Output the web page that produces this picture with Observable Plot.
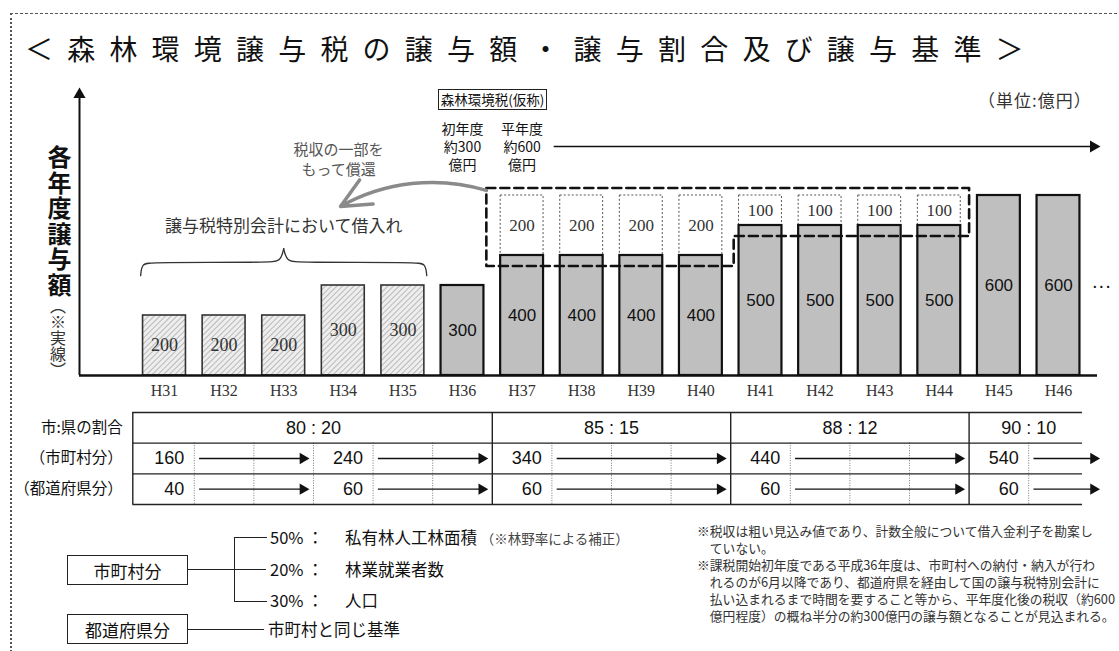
<!DOCTYPE html>
<html><head><meta charset="utf-8">
<script src="https://cdn.jsdelivr.net/npm/d3@7"></script>
<script src="https://cdn.jsdelivr.net/npm/@observablehq/plot@0.6"></script>
<style>
body{margin:0;background:#fff;}
#page{position:relative;width:1119px;height:651px;overflow:hidden;font-family:"Noto Sans CJK JP",sans-serif;color:#111;background:#fff;}
.abs{position:absolute;white-space:nowrap;line-height:1;}
#frame{position:absolute;left:10px;top:13px;width:1120px;height:650px;border-top:1.5px dashed #555;border-left:2px dotted #555;}
.box{position:absolute;border:1.5px solid #222;display:flex;align-items:center;justify-content:center;font-size:17px;box-sizing:border-box;}
.note{position:absolute;left:697px;top:522px;font-size:12.8px;line-height:17px;color:#333;white-space:nowrap;}
.note .c{padding-left:1em;}
svg{position:absolute;}
</style></head>
<body><div id="page">
<div id="frame"></div>
<div class="abs" style="left:25px;top:34px;font-size:28px;letter-spacing:14.2px;">＜森林環境譲与税の譲与額・譲与割合及び譲与基準＞</div>
<div class="abs" style="left:47px;top:145px;writing-mode:vertical-rl;font-size:24px;font-weight:700;letter-spacing:1.5px;">各年度譲与額</div>
<div class="abs" style="left:50px;top:298px;writing-mode:vertical-rl;font-size:16px;color:#333;">（※実線）</div>
<div class="abs" style="left:978px;top:91px;font-size:17px;letter-spacing:1px;color:#333;">（単位:億円）</div>
<div class="abs" style="left:438px;top:89px;width:109px;height:21px;border:1.5px solid #222;box-sizing:border-box;font-size:13.5px;display:flex;align-items:center;justify-content:center;">森林環境税(仮称)</div>

<div class="box" style="left:67px;top:555px;width:121px;height:30px;">市町村分</div>
<div class="box" style="left:67px;top:614px;width:121px;height:30px;">都道府県分</div>
<div class="abs" style="left:188px;top:569px;width:78px;height:0;border-top:1.3px solid #222;"></div>
<div class="abs" style="left:234px;top:537px;width:32px;height:63px;border-left:1.3px solid #222;border-top:1.3px solid #222;border-bottom:1.3px solid #222;"></div>
<div class="abs" style="left:188px;top:629px;width:76px;height:0;border-top:1.3px solid #222;"></div>
<div class="abs" style="left:270px;top:529px;font-size:16.5px;">50%</div>
<div class="abs" style="left:307px;top:529px;font-size:16.5px;">：</div>
<div class="abs" style="left:345px;top:529px;font-size:16.5px;">私有林人工林面積 <span style="font-size:13.5px;color:#444;">（※林野率による補正）</span></div>
<div class="abs" style="left:270px;top:561px;font-size:16.5px;">20%</div>
<div class="abs" style="left:307px;top:561px;font-size:16.5px;">：</div>
<div class="abs" style="left:345px;top:561px;font-size:16.5px;">林業就業者数</div>
<div class="abs" style="left:270px;top:592px;font-size:16.5px;">30%</div>
<div class="abs" style="left:307px;top:592px;font-size:16.5px;">：</div>
<div class="abs" style="left:345px;top:592px;font-size:16.5px;">人口</div>
<div class="abs" style="left:268px;top:621px;font-size:16.5px;">市町村と同じ基準</div>
<div class="note">
<div>※税収は粗い見込み値であり、計数全般について借入金利子を勘案し</div>
<div class="c">ていない。</div>
<div>※課税開始初年度である平成36年度は、市町村への納付・納入が行わ</div>
<div class="c">れるのが6月以降であり、都道府県を経由して国の譲与税特別会計に</div>
<div class="c">払い込まれるまで時間を要すること等から、平年度化後の税収（約600</div>
<div class="c">億円程度）の概ね半分の約300億円の譲与額となることが見込まれる。</div>
</div>
</div>
<script>
// ---------- data ----------
const years = ["H31","H32","H33","H34","H35","H36","H37","H38","H39","H40","H41","H42","H43","H44","H45","H46"];
const allotment = [200,200,200,300,300,300,400,400,400,400,500,500,500,500,600,600];
const repayment = [0,0,0,0,0,0,200,200,200,200,100,100,100,100,0,0];
const borrowedYears = ["H31","H32","H33","H34","H35"];
const ratioLabels = ["80 : 20","85 : 15","88 : 12","90 : 10"];
const ratioStartYears = ["H31","H37","H41","H45"];
const shareYears = ["H31","H34","H37","H41","H45"];
const cityShare = [160,240,340,440,540];
const prefShare = [40,60,60,60,60];
const rowLabels = ["市:県の割合","（市町村分）","（都道府県分）"];
const taxNotes = [{year:"H36", text:"初年度\n約300\n億円"},{year:"H37", text:"平年度\n約600\n億円"}];

// ---------- layout ----------
const STEP = 59.6, X0 = 134.2, Y0 = 375, PPU = 0.3, HW = 0.36;
const N = years.length;
const xDomain = [0.5, N + 0.5], xRange = [X0, X0 + STEP * N];
const px2i = p => 0.5 + (p - X0) / STEP;
const px2v = p => (Y0 - p) / PPU;
const idx = y => years.indexOf(y) + 1;
const ARROW_END = px2i(1097);

const bars = years.map((y, k) => ({year: y, i: k + 1, value: allotment[k], repay: repayment[k], borrowed: borrowedYears.includes(y)}));
const serif = "Liberation Serif, Times New Roman, serif";
const sans = "Liberation Sans, Arial, sans-serif";
const jp = "Noto Sans CJK JP, sans-serif";

// dashed box around repayment portions
const rep = bars.filter(d => d.repay > 0);
const topV = d3.max(rep, d => d.value + d.repay) + 25;
const groups = d3.groups(rep, d => d.value);
const boxPts = [[rep[0].i - 0.6, topV], [rep[rep.length - 1].i + 0.5, topV]];
for (let g = groups.length - 1; g >= 0; g--) {
  const arr = groups[g][1], yb = groups[g][0] - 35;
  const xr = g === groups.length - 1 ? arr[arr.length - 1].i + 0.5 : arr[arr.length - 1].i + 0.55;
  const xl = g === 0 ? arr[0].i - 0.6 : arr[0].i - 0.45;
  boxPts.push([xr, yb], [xl, yb]);
}
boxPts.push(boxPts[0]);

// brace over borrowed years
const bor = bars.filter(d => d.borrowed);
const bL = bor[0].i - HW - 0.04, bR = bor[bor.length - 1].i + HW + 0.04, bM = (bL + bR) / 2;
const braceV = d3.max(bor, d => d.value);
const brace = [
  {s: "L", x: bL, y: braceV + 33}, {s: "L", x: bL + 0.02, y: braceV + 73}, {s: "L", x: bL + 0.17, y: braceV + 77},
  {s: "L", x: bM - 0.25, y: braceV + 77}, {s: "L", x: bM - 0.05, y: braceV + 80}, {s: "L", x: bM, y: braceV + 123},
  {s: "R", x: bR, y: braceV + 33}, {s: "R", x: bR - 0.02, y: braceV + 73}, {s: "R", x: bR - 0.17, y: braceV + 77},
  {s: "R", x: bM + 0.25, y: braceV + 77}, {s: "R", x: bM + 0.05, y: braceV + 80}, {s: "R", x: bM, y: braceV + 123}
];

const page = document.getElementById("page");

// ---------- main chart ----------
const main = Plot.plot({
  width: 1119, height: 405, marginLeft: 79, marginRight: 22, marginTop: 89, marginBottom: 30,
  x: {type: "linear", domain: xDomain, range: xRange, axis: null},
  y: {domain: [0, 1000], range: [Y0, Y0 - 1000 * PPU], axis: null},
  style: {background: "transparent", overflow: "visible"},
  marks: [
    Plot.rect(rep, {x1: d => d.i - HW, x2: d => d.i + HW, y1: "value", y2: d => d.value + d.repay, fill: "white", stroke: "#555", strokeWidth: 1, strokeDasharray: "2,2"}),
    Plot.rect(bars.filter(d => d.borrowed), {x1: d => d.i - HW, x2: d => d.i + HW, y1: 0, y2: "value", fill: "url(#hatch)", stroke: "#333", strokeWidth: 1.6}),
    Plot.rect(bars.filter(d => !d.borrowed), {x1: d => d.i - HW, x2: d => d.i + HW, y1: 0, y2: "value", fill: "#bfbfbf", stroke: "#111", strokeWidth: 2.2}),
    Plot.text(bars.filter(d => d.borrowed), {x: "i", y: d => d.value / 2, text: d => String(d.value), fontFamily: serif, fontSize: 18, fill: "#333"}),
    Plot.text(bars.filter(d => !d.borrowed), {x: "i", y: d => d.value / 2, text: d => String(d.value), fontFamily: sans, fontSize: 17, fill: "#111"}),
    Plot.text(rep, {x: "i", y: d => d.value + d.repay / 2, text: d => String(d.repay), fontFamily: serif, fontSize: 17, fill: "#333"}),
    Plot.text(["···"], {x: () => N + 0.72, y: () => allotment[N - 1] / 2, text: d => d, fontFamily: sans, fontSize: 20, fill: "#111"}),
    Plot.line(boxPts, {x: d => d[0], y: d => d[1], stroke: "#111", strokeWidth: 2.6, strokeDasharray: "9,5"}),
    Plot.arrow([0], {x1: () => rep[0].i - 0.6, y1: () => topV - 8, x2: () => px2i(340), y2: () => px2v(206), bend: -23, stroke: "#8a8a8a", strokeWidth: 3.5, headLength: 14, headAngle: 50}),
    Plot.line(brace, {x: "x", y: "y", z: "s", curve: "basis", stroke: "#333", strokeWidth: 1.3}),
    Plot.text(["譲与税特別会計において借入れ"], {x: () => bM, y: () => braceV + 197, text: d => d, fontFamily: jp, fontSize: 17, fill: "#333"}),
    Plot.text(["税収の一部を\nもって償還"], {x: () => px2i(338), y: () => px2v(158), text: d => d, fontFamily: jp, fontSize: 15, fill: "#555", lineHeight: 1.3}),
    Plot.text(taxNotes, {x: d => idx(d.year), y: () => px2v(146), text: "text", fontFamily: jp, fontSize: 14, fill: "#111", lineHeight: 1.27}),
    Plot.link([0], {x1: () => idx("H37") + 0.53, x2: () => ARROW_END, y1: () => px2v(146), y2: () => px2v(146), stroke: "#111", strokeWidth: 1.5}),
    Plot.dot([0], {x: () => ARROW_END, y: () => px2v(146), symbol: "triangle", r: 4.5, rotate: 90, fill: "#111", dx: -4}),
    Plot.ruleY([0], {stroke: "#111", strokeWidth: 2.5}),
    Plot.ruleX([px2i(79)], {y1: 0, y2: px2v(93), stroke: "#111", strokeWidth: 2}),
    Plot.dot([px2i(79)], {x: d => d, y: () => px2v(89), symbol: "triangle", r: 4.5, fill: "#111", dy: 5}),
    Plot.axisX({ticks: bars.map(d => d.i), tickFormat: i => years[i - 1], tickSize: 0, tickPadding: 9, fontSize: 16, fontFamily: serif, fill: "#333", label: null})
  ]
});
const defs = document.createElementNS("http://www.w3.org/2000/svg", "defs");
defs.innerHTML = '<pattern id="hatch" patternUnits="userSpaceOnUse" width="4" height="4" patternTransform="rotate(45)"><rect width="4" height="4" fill="#eeeeee"/><line x1="0" y1="0" x2="0" y2="4" stroke="#9c9c9c" stroke-width="1.3"/></pattern>';
main.insertBefore(defs, main.firstChild);
main.style.left = "0px"; main.style.top = "0px";
page.appendChild(main);

// ---------- table ----------
const TL = px2i(132.3), TR = px2i(1082);
const starts = ratioStartYears.map(idx);
const ratioGroups = ratioLabels.map((r, k) => ({label: r, s: starts[k], e: k < starts.length - 1 ? starts[k + 1] - 1 : N}));
const solidX = [TL, ...starts.slice(1).map(s => s - 0.5)];
const dottedX = d3.range(1, N).map(k => k + 0.5).filter(b => !starts.includes(b + 0.5));
const shareIdx = shareYears.map(idx);
const shares = [];
shareYears.forEach((y, k) => {
  const s = shareIdx[k], next = k < shareIdx.length - 1 ? shareIdx[k + 1] : null;
  const x1 = s + 0.58, x2 = next ? next - 0.61 : ARROW_END;
  shares.push({row: 1, i: s, v: cityShare[k], x1, x2});
  shares.push({row: 2, i: s, v: prefShare[k], x1, x2});
});
const rows = rowLabels.map((t, k) => ({t, k}));

const table = Plot.plot({
  width: 1119, height: 115, marginLeft: 0, marginRight: 0, marginTop: 12, marginBottom: 11,
  x: {type: "linear", domain: xDomain, range: xRange, axis: null},
  y: {domain: [0, 3], range: [12, 104], axis: null},
  style: {background: "transparent", overflow: "visible"},
  marks: [
    Plot.ruleX(dottedX, {y1: 1, y2: 3, stroke: "#777", strokeWidth: 1, strokeDasharray: "1,1.5"}),
    Plot.ruleY([0, 1, 2, 3], {x1: TL, x2: TR, stroke: "#222", strokeWidth: 1.4}),
    Plot.ruleX(solidX, {y1: 0, y2: 3, stroke: "#222", strokeWidth: 1.4}),
    Plot.text(ratioGroups, {x: d => (d.s + d.e) / 2, y: () => 0.5, text: "label", fontFamily: sans, fontSize: 18, fill: "#111"}),
    Plot.text(shares, {x: d => d.i + 0.5, y: d => d.row + 0.5, text: d => String(d.v), dx: -10, textAnchor: "end", fontFamily: sans, fontSize: 18, fill: "#111"}),
    Plot.link(shares, {x1: "x1", x2: "x2", y1: d => d.row + 0.5, y2: d => d.row + 0.5, stroke: "#111", strokeWidth: 1.4}),
    Plot.dot(shares, {x: "x2", y: d => d.row + 0.5, symbol: "triangle", r: 4.2, rotate: 90, fill: "#111", dx: -4}),
    Plot.text(rows, {x: () => TL, y: d => d.k + 0.5, text: "t", dx: -10, textAnchor: "end", fontFamily: jp, fontSize: 15.5, fill: "#111"})
  ]
});
table.style.left = "0px"; table.style.top = "400px";
page.appendChild(table);
</script>
</body></html>
